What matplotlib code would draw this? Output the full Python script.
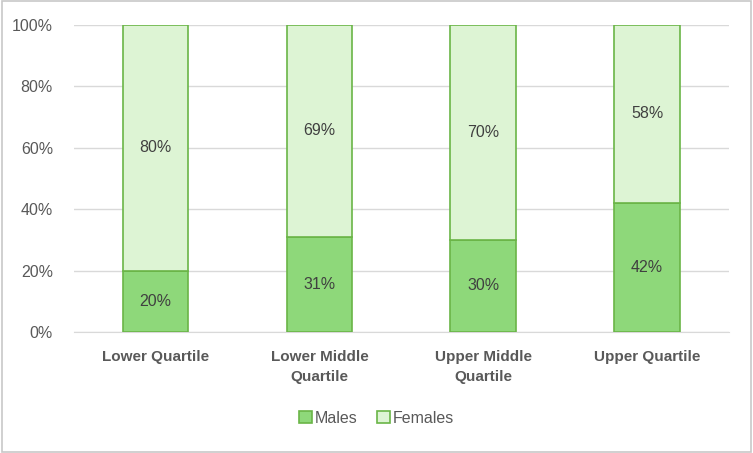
import matplotlib.pyplot as plt
import numpy as np

categories = ['Lower Quartile', 'Lower Middle\nQuartile', 'Upper Middle\nQuartile', 'Upper Quartile']
males = [20, 31, 30, 42]
females = [80, 69, 70, 58]

plt.rcParams['font.family'] = ['Liberation Sans Narrow', 'Liberation Sans', 'DejaVu Sans']

male_col = '#8ed87a'
female_col = '#ddf4d4'
edge_col = '#6ab547'
text_col = '#595959'

fig = plt.figure(figsize=(7.53, 4.53), dpi=100)
ax = fig.add_axes([0.098, 0.267, 0.87, 0.678])

x = np.arange(len(categories))
ax.bar(x, males, width=0.4, color=male_col, edgecolor=edge_col, linewidth=1.2, label='Males', zorder=3)
ax.bar(x, females, width=0.4, bottom=males, color=female_col, edgecolor=edge_col, linewidth=1.2, label='Females', zorder=3)

for i in range(len(categories)):
    ax.text(x[i], males[i] / 2, f'{males[i]}%', ha='center', va='center', fontsize=11.5, color='#404040', zorder=4)
    ax.text(x[i], males[i] + females[i] / 2, f'{females[i]}%', ha='center', va='center', fontsize=11.5, color='#404040', zorder=4)

ax.set_xlim(-0.5, 3.5)
ax.set_ylim(0, 100)
ax.set_yticks(range(0, 101, 20))
ax.set_yticklabels([f'{v}%' for v in range(0, 101, 20)], fontsize=11.5, color=text_col)
ax.set_xticks(x)
ax.set_xticklabels(categories, fontsize=11, fontweight='bold', color=text_col, linespacing=1.55)
ax.tick_params(axis='x', length=0, pad=13)
ax.tick_params(axis='y', length=0, pad=15)
ax.yaxis.grid(True, color='#d9d9d9', linewidth=1)
ax.set_axisbelow(True)
for s in ['top', 'right', 'left']:
    ax.spines[s].set_visible(False)
ax.spines['bottom'].set_color('#d9d9d9')

fig.legend(loc='center', bbox_to_anchor=(0.5, 0.077), ncol=2, frameon=False, fontsize=11.5,
           handlelength=0.8, handleheight=0.8, handletextpad=0.2, columnspacing=1.2,
           labelcolor=text_col)

fig.patches.append(plt.Rectangle((0.002, 0.002), 0.996, 0.996, transform=fig.transFigure,
                                 fill=False, edgecolor='#c8c8c8', linewidth=1.2))

fig.savefig('out.png', dpi=100)
